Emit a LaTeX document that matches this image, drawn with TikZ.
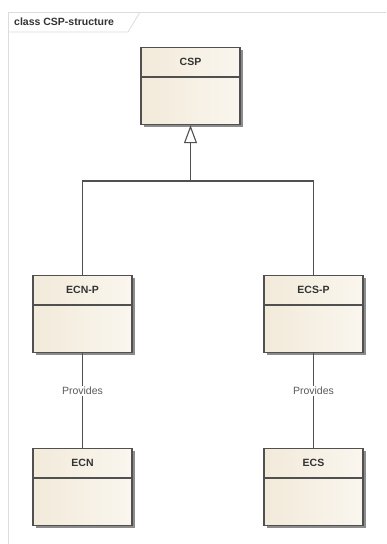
\documentclass[tikz,border=0pt]{standalone}
\usepackage{fontspec}
\setmainfont{Liberation Sans}
\usetikzlibrary{arrows.meta,calc}
\definecolor{boxL}{HTML}{F2EADA}
\definecolor{boxR}{HTML}{FAF6EE}
\definecolor{edge}{HTML}{505050}
\definecolor{frameC}{HTML}{DCDCDC}
\tikzset{
  classbox/.style={draw=edge, line width=1.2pt, minimum width=99pt, minimum height=77pt,
    anchor=north, inner sep=0pt, left color=boxL, right color=boxR},
  classname/.style={font=\fontsize{10.5}{12}\selectfont\bfseries, text=black!80},
  conn/.style={draw=edge, line width=1.2pt},
  lbl/.style={font=\fontsize{10.5}{12}\selectfont, text=black!65, fill=white, inner sep=1.5pt},
}
\newcommand{\umlbox}[4]{%
  \fill[black!45] (#2-49.5+3,#3+3) rectangle (#2+49.5+3,#3+77+3);
  \node[classbox] (#1) at (#2,#3) {};
  \draw[conn] ($(#1.north west)+(0,30)$) -- ($(#1.north east)+(0,30)$);
  \node[classname] (#1t) at ($(#1.north)+(0,15)$) {#4};
}
\begin{document}
\begin{tikzpicture}[x=1pt,y=-1pt]
\useasboundingbox (0,0) rectangle (386,544);
\fill[white] (0,0) rectangle (386,544);
% frame
\draw[frameC, line width=0.8pt] (386,12) -- (8,12) -- (8,544);
\draw[frameC, line width=0.8pt] (8,32) -- (128,32) -- (140,12);
\node[anchor=west, font=\fontsize{10.5}{12}\selectfont\bfseries, text=black!80, inner sep=0pt] (title) at (14,22) {class CSP-structure};
% boxes
\umlbox{csp}{190.5}{47}{CSP}
\umlbox{ecnp}{82.5}{275}{ECN-P}
\umlbox{ecsp}{313.5}{275}{ECS-P}
\umlbox{ecn}{82.5}{448}{ECN}
\umlbox{ecs}{313.5}{448}{ECS}
% generalization
\coordinate (j) at (190.5,181);
\draw[conn] (ecnp.north) |- (j) -| (ecsp.north);
\draw[conn, -{Triangle[open, length=18pt, width=13pt, fill=white, line width=1.1pt]}] (j) -- (csp.south);
% provides
\draw[conn] (ecnp.south) -- node[lbl, pos=0.4] (p1) {Provides} (ecn.north);
\draw[conn] (ecsp.south) -- node[lbl, pos=0.4] (p2) {Provides} (ecs.north);
\end{tikzpicture}
\end{document}
